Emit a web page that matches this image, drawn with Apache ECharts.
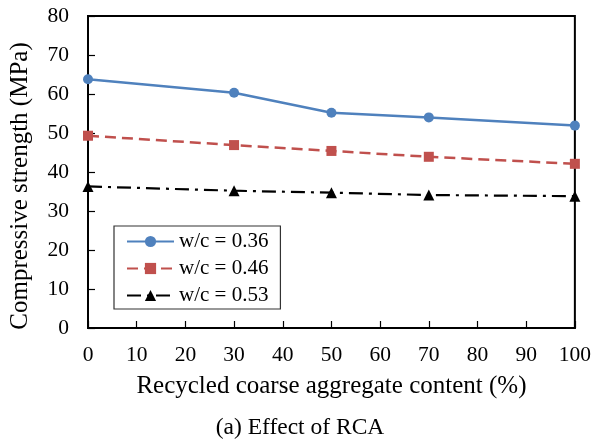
<!DOCTYPE html>
<html><head><meta charset="utf-8">
<script src="https://cdn.jsdelivr.net/npm/echarts@6/dist/echarts.min.js"></script>
<style>html,body{margin:0;padding:0;background:#fff}#c{width:594px;height:440px}</style>
</head><body><div id="c"></div>
<script>
const rcaContent = [0, 30, 50, 70, 100];
const wc036 = [63.8, 60.3, 55.2, 54.0, 51.9];
const wc046 = [49.3, 46.9, 45.4, 43.9, 42.1];
const wc053 = [36.3, 35.2, 34.7, 34.1, 33.8];
const seriesNames = ['w/c = 0.36', 'w/c = 0.46', 'w/c = 0.53'];
const FONT = '"Liberation Serif", "Times New Roman", serif';
const chart = echarts.init(document.getElementById('c'));
const pair = arr => rcaContent.map((x, i) => [x, arr[i]]);
chart.setOption({
  animation: false,
  textStyle: {fontFamily: FONT},
  title: {text: '(a) Effect of RCA', left: 300, textAlign: 'center', top: 416, padding: 0,
    textStyle: {fontFamily: FONT, fontSize: 23.5, fontWeight: 'normal', color: '#000'}},
  grid: {left: 88, right: 18, top: 16, bottom: 112, show: true, borderColor: '#000', borderWidth: 2},
  legend: {
    orient: 'vertical', left: 114, top: 226,
    backgroundColor: '#fff', borderColor: '#333', borderWidth: 1.2,
    padding: [5, 12, 3, 12], itemGap: 6, itemWidth: 47, itemHeight: 14,
    textStyle: {fontFamily: FONT, fontSize: 21, color: '#000'},
    data: seriesNames
  },
  xAxis: {
    type: 'value', min: 0, max: 100, interval: 10,
    name: 'Recycled coarse aggregate content (%)', nameLocation: 'middle', nameGap: 46,
    nameTextStyle: {fontFamily: FONT, fontSize: 25, color: '#000'},
    axisLine: {lineStyle: {color: '#000', width: 2}},
    axisTick: {inside: true, length: 7, lineStyle: {color: '#000', width: 1.2}},
    axisLabel: {fontFamily: FONT, fontSize: 21.5, color: '#000', margin: 16},
    splitLine: {show: false}
  },
  yAxis: {
    type: 'value', min: 0, max: 80, interval: 10,
    name: 'Compressive strength (MPa)', nameLocation: 'middle', nameGap: 55,
    nameTextStyle: {fontFamily: FONT, fontSize: 25, color: '#000', padding: [0, 28, 0, 0]},
    axisLine: {show: true, lineStyle: {color: '#000', width: 2}},
    axisTick: {show: true, inside: true, length: 7, lineStyle: {color: '#000', width: 1.2}},
    axisLabel: {fontFamily: FONT, fontSize: 21.5, color: '#000', margin: 19},
    splitLine: {show: false}
  },
  series: [
    {name: seriesNames[0], type: 'line', data: pair(wc036), symbol: 'circle', symbolSize: 10,
      itemStyle: {color: '#4F81BD'}, lineStyle: {color: '#4F81BD', width: 2.5, type: 'solid'}},
    {name: seriesNames[1], type: 'line', data: pair(wc046), symbol: 'rect', symbolSize: 10,
      itemStyle: {color: '#C0504D'}, lineStyle: {color: '#C0504D', width: 2.5, type: [11, 6]}},
    {name: seriesNames[2], type: 'line', data: pair(wc053), symbol: 'triangle', symbolSize: 11,
      itemStyle: {color: '#000'}, lineStyle: {color: '#000', width: 2.2, type: [14, 6, 3, 6]}}
  ]
});
</script></body></html>
